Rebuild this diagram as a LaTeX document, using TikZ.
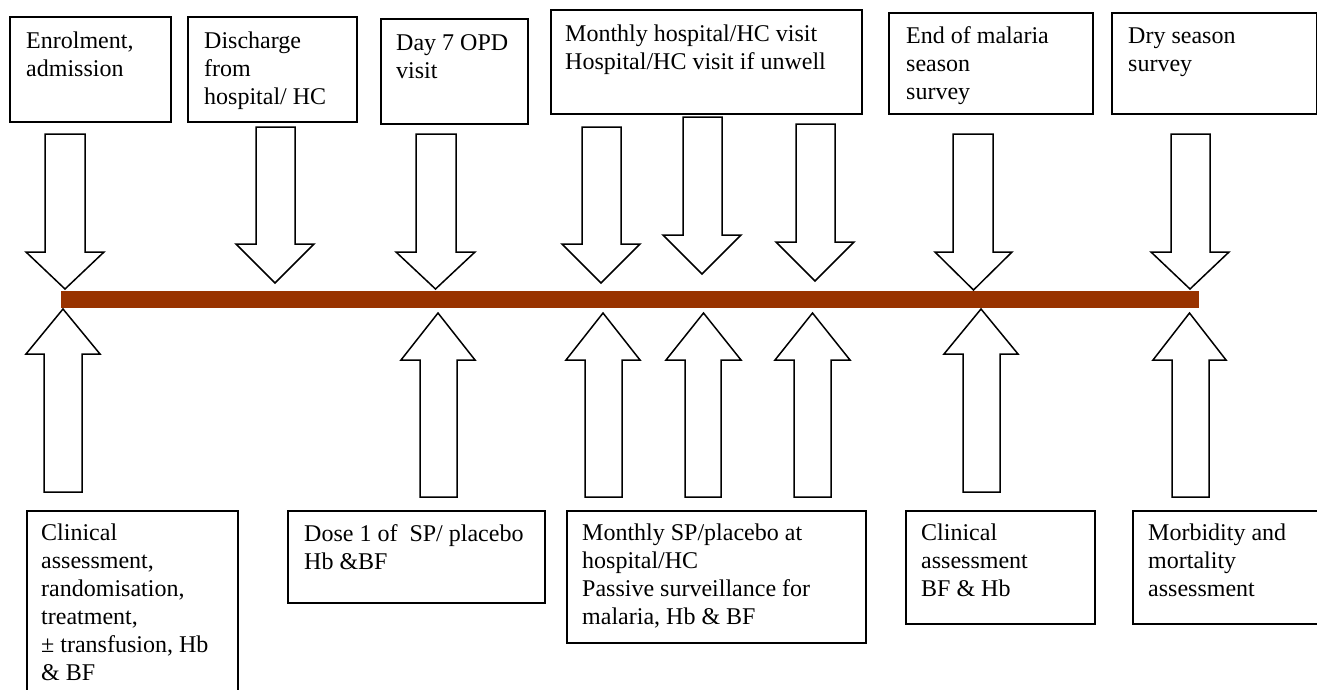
\documentclass[tikz,border=0pt]{standalone}
\usepackage{fontspec}
\setmainfont{Liberation Serif}
\definecolor{barc}{RGB}{153,51,0}
\tikzset{
  box/.style={draw=black, line width=1.6pt, fill=white, anchor=north west, inner sep=0pt},
  txt/.style={anchor=base west, inner sep=0pt, font=\fontsize{24}{28}\selectfont},
  arr/.style={draw=black, line width=1.5pt, fill=white, line join=miter},
}
\newcommand{\dnarr}[7]{%
  \draw[arr] (#1,#3) -- (#2,#3) -- (#2,#6) -- (#5,#6) -- ({(#4+#5)/2},#7) -- (#4,#6) -- (#1,#6) -- cycle;}
\newcommand{\uparr}[7]{%
  \draw[arr] (#1,#3) -- (#2,#3) -- (#2,#6) -- (#5,#6) -- ({(#4+#5)/2},#7) -- (#4,#6) -- (#1,#6) -- cycle;}
\newcommand{\bx}[5]{%
  \node[box, minimum width={(#4-#2)*1pt}, minimum height={(#5-#3)*1pt}] (#1) at (#2,#3) {};}
\newcommand{\tx}[4]{%
  \node[txt] (#1) at (#2,#3) {\parbox[t]{330pt}{\fontsize{24}{28}\selectfont #4}};}
\begin{document}
\begin{tikzpicture}[x=1pt,y=-1pt]
\useasboundingbox[fill=white] (0,0) rectangle (1317,689);
% top boxes
\bx{t1}{9}{16}{170}{121}
\bx{t2}{187}{16}{356}{121}
\bx{t3}{380}{18}{527}{123}
\bx{t4}{550}{9}{861}{113}
\bx{t5}{888}{12}{1092}{113}
\bx{t6}{1111}{12}{1316}{113}
\tx{t1t}{26}{48}{Enrolment,\\admission}
\tx{t2t}{204}{48}{Discharge\\from\\hospital/ HC}
\tx{t3t}{396}{50}{Day 7 OPD\\visit}
\tx{t4t}{565}{41}{Monthly hospital/HC visit\\Hospital/HC visit if unwell}
\tx{t5t}{906}{43}{End of malaria\\season\\survey}
\tx{t6t}{1128}{43}{Dry season\\survey}
% bottom boxes
\bx{b1}{26}{510}{237}{720}
\bx{b2}{287}{510}{544}{602}
\bx{b3}{566}{510}{865}{642}
\bx{b4}{905}{510}{1094}{623}
\bx{b5}{1132}{510}{1340}{623}
\tx{b1t}{41}{540}{Clinical\\assessment,\\randomisation,\\treatment,\\± transfusion, Hb\\\& BF}
\tx{b2t}{304}{541}{Dose 1 of \ SP/ placebo\\Hb \&BF}
\tx{b3t}{582}{540}{Monthly SP/placebo at\\hospital/HC\\Passive surveillance for\\malaria, Hb \& BF}
\tx{b4t}{921}{540}{Clinical\\assessment\\BF \& Hb}
\tx{b5t}{1148}{540}{Morbidity and\\mortality\\assessment}
% timeline bar
\node[fill=barc, inner sep=0pt, anchor=north west, minimum width=1138pt, minimum height=17pt] (bar) at (61,291) {};
% down arrows
\dnarr{45}{85}{134}{26}{104}{252}{289}
\dnarr{256}{295}{127}{236}{314}{244}{283}
\dnarr{416}{456}{134}{396}{475}{252}{289}
\dnarr{582}{621}{127}{562}{640}{244}{283}
\dnarr{683}{722}{117}{663}{741}{235}{274}
\dnarr{796}{835}{124}{776}{854}{242}{281}
\dnarr{953}{993}{134}{935}{1012}{252}{290}
\dnarr{1171}{1210}{134}{1151}{1229}{252}{289}
% up arrows
\uparr{44}{82}{492}{26}{100}{354}{309}
\uparr{420}{457}{497}{401}{475}{360}{313}
\uparr{585}{622}{497}{566}{640}{360}{313}
\uparr{685}{721}{497}{666}{741}{360}{313}
\uparr{794}{831}{497}{775}{850}{360}{313}
\uparr{963}{1000}{492}{944}{1018}{354}{309}
\uparr{1172}{1209}{497}{1153}{1226}{360}{313}
\end{tikzpicture}
\end{document}
